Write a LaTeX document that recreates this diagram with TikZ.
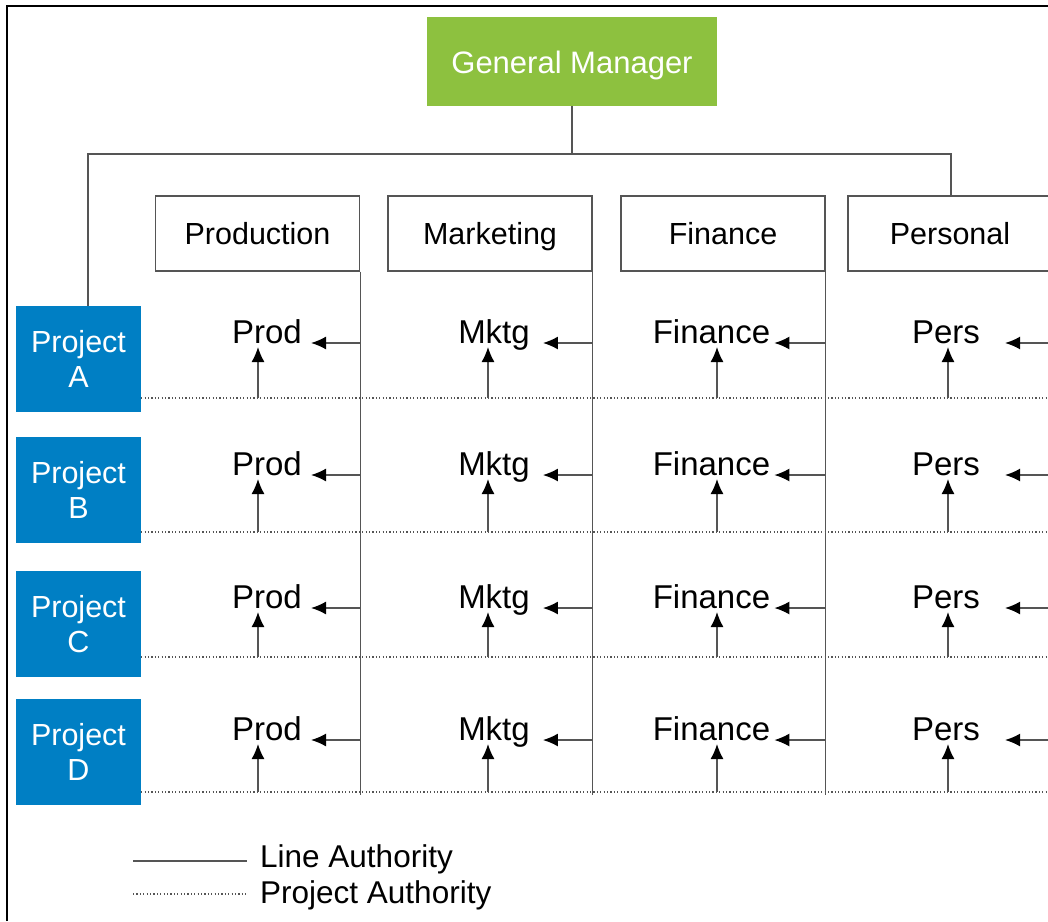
\documentclass[tikz,border=0pt]{standalone}
\usepackage{fontspec}
\setmainfont{Liberation Sans}
\usetikzlibrary{arrows.meta}

\definecolor{gmgreen}{RGB}{141,193,63}
\definecolor{prjblue}{RGB}{0,127,196}
\definecolor{linegray}{RGB}{85,85,85}

\tikzset{
  lineauth/.style={draw=linegray, line width=1.4pt},
  projauth/.style={draw=linegray, line width=1.2pt, dash pattern=on 1.2pt off 2.2pt},
  arr/.style={lineauth, -{Latex[length=15pt,width=13pt,color=black]}},
  gmbox/.style={fill=gmgreen, text=white, minimum width=290pt, minimum height=89pt,
    text height=24pt, text depth=0pt, font=\fontsize{31}{36}\selectfont},
  deptbox/.style={draw=linegray, line width=1.4pt, fill=white, minimum width=204pt,
    minimum height=75pt, text height=22pt, text depth=0pt, font=\fontsize{30.5}{36}\selectfont},
  prjbox/.style={fill=prjblue, text=white, minimum width=125pt, minimum height=106pt,
    align=center, font=\fontsize{30.5}{34.5}\selectfont},
  lbl/.style={anchor=base, inner sep=0pt, font=\fontsize{33}{38}\selectfont},
  legtext/.style={anchor=base west, inner sep=0pt, font=\fontsize{31.5}{36}\selectfont}
}

\begin{document}
\begin{tikzpicture}[x=1pt,y=-1pt]
\path[use as bounding box, clip] (0,0) rectangle (1048,921);
\fill[white] (0,0) rectangle (1048,921);
\draw[line width=2pt] (7,921) -- (7,6) -- (1048,6);

\path (572,61.5) node[gmbox] (gm) {General Manager};

\path (257.5,233.5) node[deptbox] (prod) {Production};
\path (490,233.5) node[deptbox] (mktg) {Marketing};
\path (723,233.5) node[deptbox] (fin) {Finance};
\path (950,233.5) node[deptbox] (pers) {Personal};

\foreach \r/\py in {A/359, B/490, C/624, D/752}
{
	\path (78.5,\py) node[prjbox] (prj\r) {Project\\\r};
}

\coordinate (busl) at (88,154);
\coordinate (busr) at (951,154);
\draw[lineauth] (gm.south) |- (busl) -- (busl |- prjA.north);
\draw[lineauth] (gm.south) |- (busr) -- (busr |- pers.north);

\coordinate (lowend) at (0,795);
\foreach \c in {prod, mktg, fin, pers}
{
	\draw[lineauth] (\c.south east) -- (\c.south east |- lowend);
}

\foreach \r/\y/\d in {A/343/398, B/475/532, C/608/657, D/740/792}
{
	\coordinate (dot\r) at (1048,\d);
	\draw[projauth] (prj\r.east |- dot\r) -- (dot\r);
	\foreach \c/\t/\lx/\ux/\g in {prod/Prod/267/258/9pt, mktg/Mktg/494/488/13pt, fin/Finance/711.5/717/4pt, pers/Pers/946/948/25pt}
	{
		\path (\lx,\y) node[lbl] (\c\r) {\t};
		\coordinate (up\c\r) at (\ux,\d);
		\draw[arr, shorten >=\g] (\c.south east |- \c\r.base) -- (\c\r.base east);
		\draw[arr, shorten >=4pt] (up\c\r) -- (up\c\r |- \c\r.base);
	}
}

\coordinate (legl) at (133,861);
\path (260,867) node[legtext] (legline) {Line Authority};
\draw[lineauth, shorten >=13pt] (legl) -- (legl -| legline.west);
\coordinate (legp) at (133,894);
\path (260,903) node[legtext] (legproj) {Project Authority};
\draw[projauth, shorten >=13pt] (legp) -- (legp -| legproj.west);

\end{tikzpicture}
\end{document}
